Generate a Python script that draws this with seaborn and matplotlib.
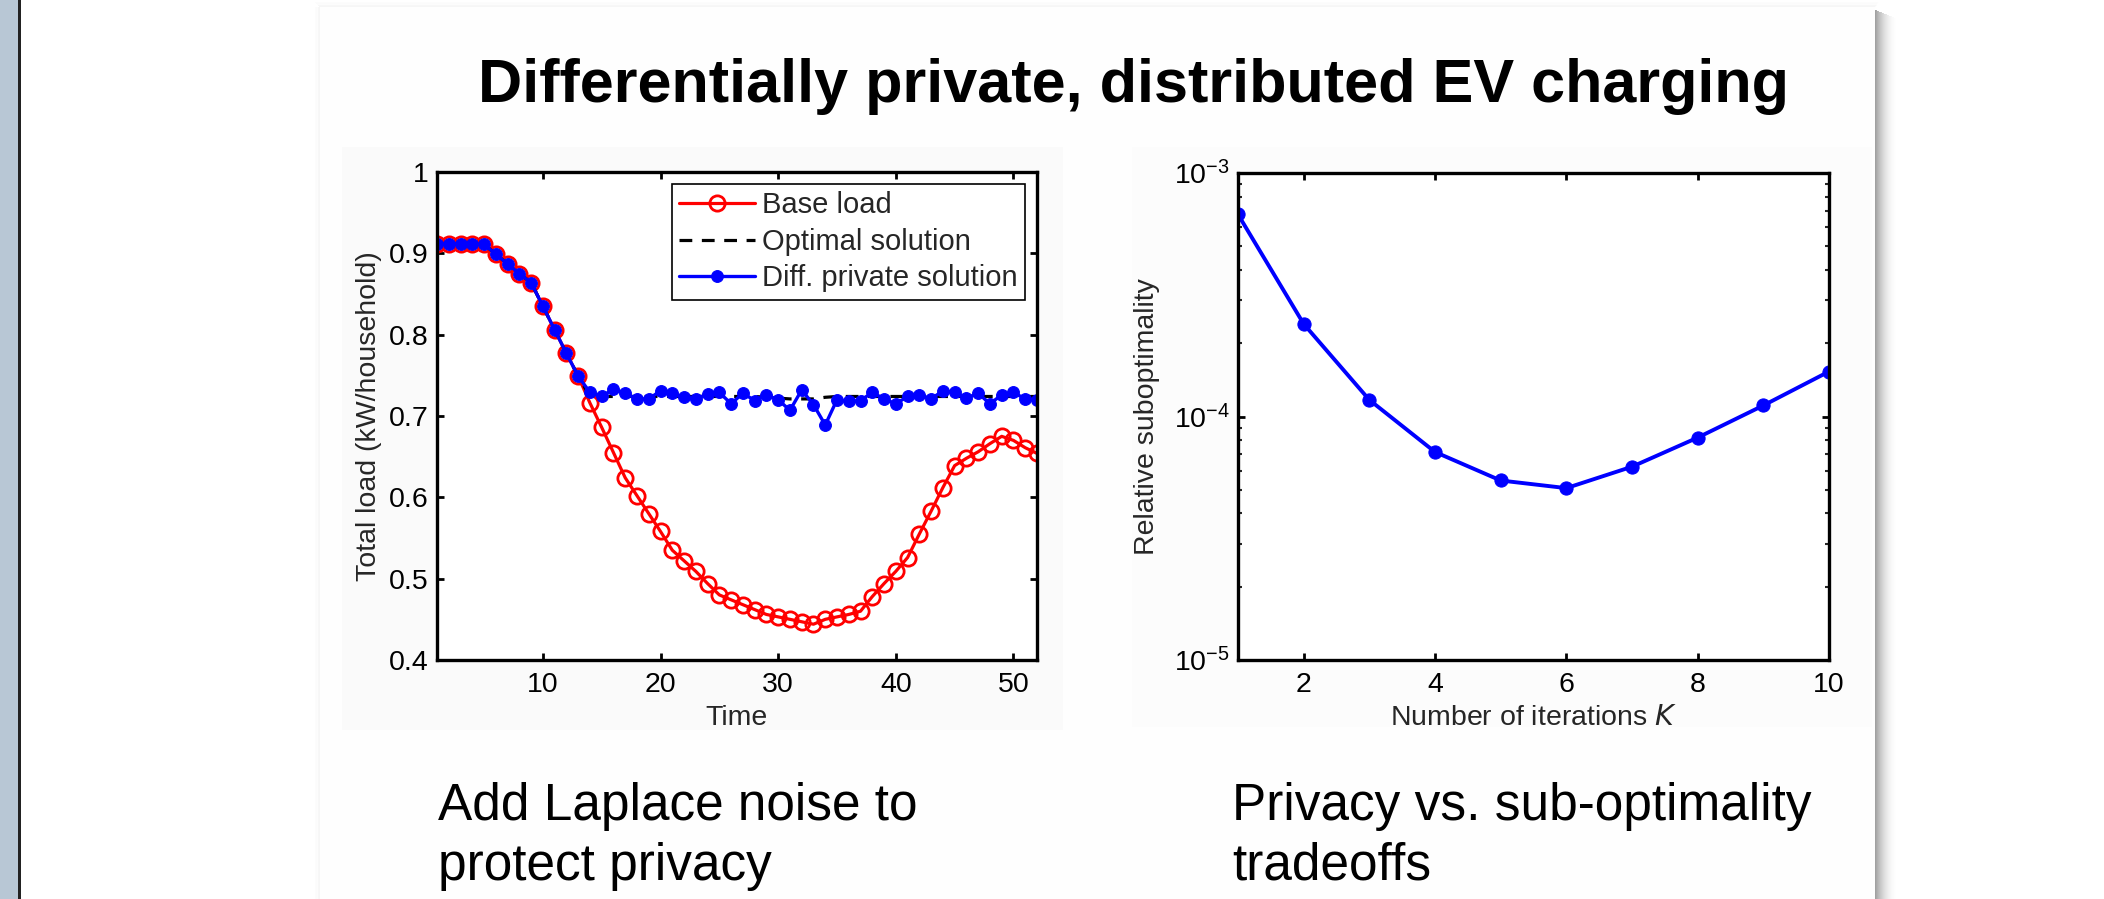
import numpy as np
import pandas as pd
import matplotlib
matplotlib.use('Agg')
import matplotlib.pyplot as plt
from matplotlib.patches import Rectangle
import seaborn as sns

# data
time = list(range(1, 53))
base_load = [0.912, 0.912, 0.912, 0.912, 0.911, 0.899, 0.887, 0.875, 0.864, 0.835,
             0.806, 0.777, 0.749, 0.716, 0.686, 0.655, 0.624, 0.602, 0.580, 0.558,
             0.535, 0.522, 0.509, 0.494, 0.480, 0.474, 0.468, 0.462, 0.456, 0.453,
             0.450, 0.447, 0.444, 0.450, 0.453, 0.456, 0.460, 0.478, 0.494, 0.509,
             0.526, 0.555, 0.583, 0.612, 0.639, 0.648, 0.656, 0.666, 0.675, 0.670,
             0.661, 0.654]
optimal = [0.912, 0.912, 0.912, 0.912, 0.911, 0.899, 0.887, 0.875, 0.864, 0.835,
           0.806, 0.777, 0.749, 0.724, 0.724, 0.724, 0.724, 0.724, 0.724, 0.724,
           0.724, 0.724, 0.724, 0.724, 0.724, 0.724, 0.724, 0.724, 0.723, 0.722,
           0.721, 0.721, 0.721, 0.723, 0.724, 0.724, 0.724, 0.724, 0.724, 0.724,
           0.724, 0.724, 0.724, 0.724, 0.724, 0.724, 0.724, 0.724, 0.724, 0.724,
           0.724, 0.724]
private = [0.912, 0.912, 0.912, 0.912, 0.911, 0.899, 0.887, 0.875, 0.864, 0.835,
           0.806, 0.777, 0.749, 0.729, 0.724, 0.733, 0.728, 0.721, 0.721, 0.731,
           0.728, 0.723, 0.721, 0.727, 0.729, 0.715, 0.728, 0.719, 0.726, 0.720,
           0.707, 0.732, 0.714, 0.689, 0.720, 0.718, 0.719, 0.729, 0.721, 0.715,
           0.724, 0.726, 0.721, 0.731, 0.729, 0.722, 0.728, 0.715, 0.726, 0.729,
           0.721, 0.720]
load_ticks = [0.4, 0.5, 0.6, 0.7, 0.8, 0.9, 1.0]
load_tick_labels = ['0.4', '0.5', '0.6', '0.7', '0.8', '0.9', '1']
time_ticks = [10, 20, 30, 40, 50]

iterations = [1, 2, 3, 4, 5, 6, 7, 8, 9, 10]
subopt = [6.76e-4, 2.40e-4, 1.17e-4, 7.15e-5, 5.46e-5, 5.08e-5, 6.22e-5, 8.19e-5,
          1.11e-4, 1.53e-4]
iter_ticks = [2, 4, 6, 8, 10]

title = 'Differentially private, distributed EV charging'
caption_left = ['Add Laplace noise to', 'protect privacy']
caption_right = ['Privacy vs. sub-optimality', 'tradeoffs']

sns.set_theme(style='white')
plt.rcParams['font.family'] = ['Liberation Sans', 'DejaVu Sans']
plt.rcParams['mathtext.default'] = 'regular'

W, H = 2104, 899
fig = plt.figure(figsize=(W / 100, H / 100), dpi=100)
fig.patch.set_facecolor('white')

# background layer in pixel coordinates
bg = fig.add_axes([0, 0, 1, 1], zorder=-10)
bg.set_xlim(0, W)
bg.set_ylim(H, 0)
bg.axis('off')

# left strip of the window
bg.add_patch(Rectangle((0, 0), 18, H, color='#b8c7d5', lw=0))
bg.add_patch(Rectangle((18, 0), 2.5, H, color='#222222', lw=0))

# slide shadow (right side darker, faint elsewhere)
for i in range(22):
    f = 1 - i / 22
    bg.add_patch(Rectangle((1875 + i, 10 + i * 0.4), 1.05, H, color='#555555',
                           alpha=0.55 * f ** 2, lw=0))
for i in range(10):
    a = 0.05 * (1 - i / 10)
    bg.add_patch(Rectangle((320 - i * 0.6, 7 - i * 0.6), 1555 + i, 1, color='#999999', alpha=a, lw=0))
    bg.add_patch(Rectangle((320 - i * 0.6, 7), 1, H, color='#999999', alpha=a, lw=0))

# slide and embedded figure backgrounds
bg.add_patch(Rectangle((320, 7), 1555, H, color='#fefefe', lw=0))
bg.add_patch(Rectangle((342, 147), 721, 583, color='#fafafa', lw=0))
bg.add_patch(Rectangle((1132, 147), 740, 580, color='#fcfcfc', lw=0))

bg.text(1133, 102, title, ha='center', va='baseline', fontsize=44, fontweight='bold', color='black')
bg.text(438, 820, caption_left[0], ha='left', va='baseline', fontsize=37, color='black')
bg.text(438, 880, caption_left[1], ha='left', va='baseline', fontsize=37, color='black')
bg.text(1232, 820, caption_right[0], ha='left', va='baseline', fontsize=37, color='black')
bg.text(1232, 880, caption_right[1], ha='left', va='baseline', fontsize=37, color='black')


def px_axes(x0, y0, x1, y1):
    return fig.add_axes([x0 / W, 1 - y1 / H, (x1 - x0) / W, (y1 - y0) / H])


def matlab_style(ax):
    ax.set_facecolor('white')
    for s in ax.spines.values():
        s.set_visible(True)
        s.set_color('black')
        s.set_linewidth(2.4)
    ax.tick_params(which='major', direction='in', length=5, width=2,
                   top=True, right=True, bottom=True, left=True,
                   labelsize=20.5, colors='black', pad=6)
    ax.tick_params(axis='x', pad=9)


# left panel: load over time
ax1 = px_axes(437, 172, 1037, 660)
df = pd.DataFrame({'Time': time, 'base': base_load, 'opt': optimal, 'priv': private})
sns.lineplot(data=df, x='Time', y='base', ax=ax1, color='red', lw=2.3, marker='o',
             markersize=11, markerfacecolor='none', markeredgecolor='red',
             markeredgewidth=2, label='Base load')
sns.lineplot(data=df, x='Time', y='opt', ax=ax1, color='black', lw=2.3,
             linestyle=(0, (4, 3)), label='Optimal solution')
sns.lineplot(data=df, x='Time', y='priv', ax=ax1, color='blue', lw=2.4, marker='o',
             markersize=8.5, markerfacecolor='blue', markeredgecolor='blue',
             label='Diff. private solution')
ax1.set_xlim(1, 52)
ax1.set_ylim(0.4, 1.0)
ax1.set_xticks(time_ticks)
ax1.set_yticks(load_ticks)
ax1.set_yticklabels(load_tick_labels)
ax1.set_xlabel('Time', fontsize=20.5, labelpad=5)
ax1.set_ylabel('Total load (kW/household)', fontsize=20.5, labelpad=5)
matlab_style(ax1)
leg = ax1.legend(loc='upper right', fontsize=21, frameon=True, fancybox=False,
                 edgecolor='black', framealpha=1, borderaxespad=0.4,
                 handlelength=2.6, labelspacing=0.3, borderpad=0.25,
                 handletextpad=0.25)
leg.get_frame().set_linewidth(1.2)

# right panel: suboptimality vs iterations
ax2 = px_axes(1238, 173, 1829, 660)
df2 = pd.DataFrame({'K': iterations, 'subopt': subopt})
sns.lineplot(data=df2, x='K', y='subopt', ax=ax2, color='blue', lw=2.8, marker='o',
             markersize=9.5, markerfacecolor='blue', markeredgecolor='blue')
ax2.set_yscale('log')
ax2.set_xlim(1, 10)
ax2.set_ylim(1e-5, 1e-3)
ax2.set_xticks(iter_ticks)
ax2.set_xlabel('Number of iterations $\\it{K}$', fontsize=20.5, labelpad=5)
ax2.set_ylabel('Relative suboptimality', fontsize=20.5, labelpad=10)
matlab_style(ax2)
ax2.tick_params(which='minor', direction='in', length=3, width=1.5,
                left=True, right=True, bottom=False, top=False)

fig.savefig('out.png', dpi=100)
